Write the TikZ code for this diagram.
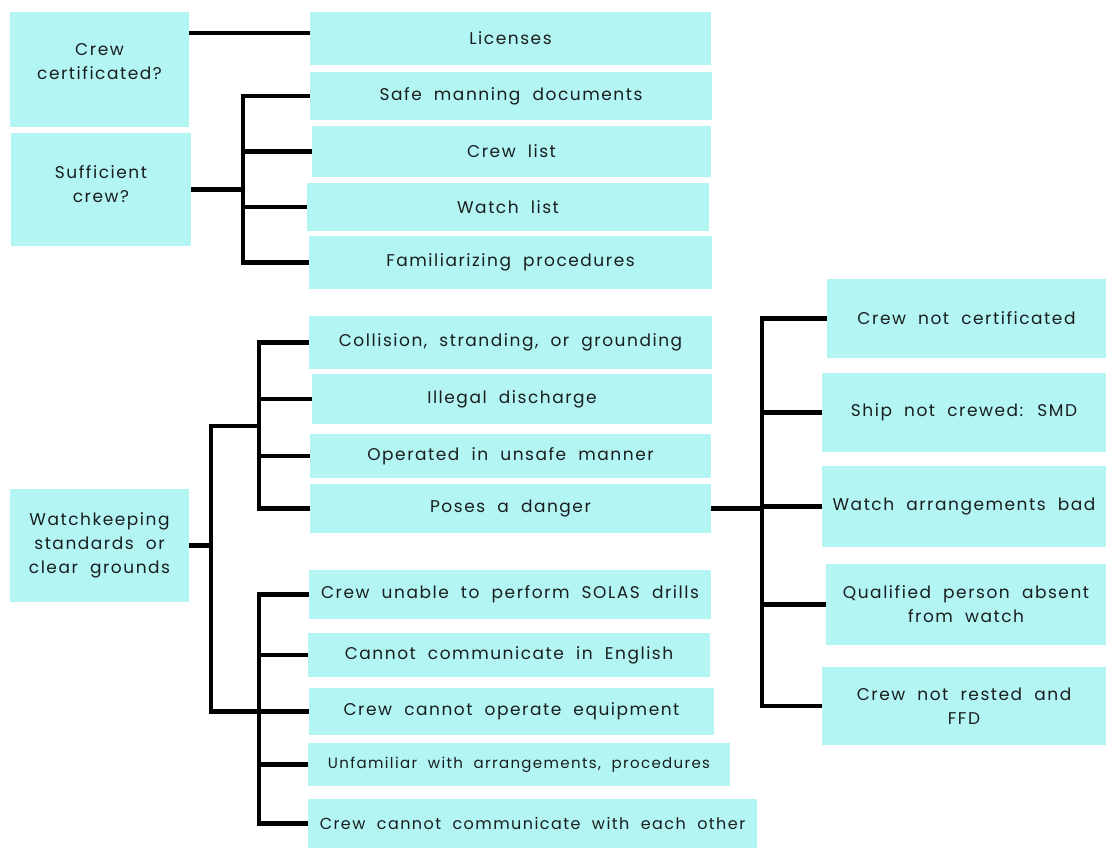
\documentclass[tikz,border=0pt]{standalone}
\usepackage{fontspec}
\setmainfont{Poppins}[LetterSpace=9,WordSpace=2]
\begin{document}
\begin{tikzpicture}[x=1pt,y=-1pt,
    box/.style={fill=boxcyan, inner sep=0pt, align=center, text=textgray,
      font=\fontsize{17}{24}\selectfont},
    conn/.style={line width=4.5pt},
    bus/.style={line width=4.5pt, line cap=rect}]
    % Define colors
    \definecolor{boxcyan}{RGB}{178,245,243}
    \definecolor{textgray}{RGB}{25,30,30}

    \useasboundingbox (0,0) rectangle (1106,848);

    % Questions on the left
    \node[box, minimum width=179pt, minimum height=115pt] (cert) at (99.5,69.5) {Crew\\certificated?\\[-8pt]};
    \node[box, minimum width=180pt, minimum height=113pt] (suff) at (101,189.5) {Sufficient\\crew?\\[-14pt]};
    \node[box, minimum width=179pt, minimum height=113pt] (wk) at (99.5,545.5) {Watchkeeping\\standards or\\clear grounds};

    % Documents
    \node[box, minimum width=401pt, minimum height=53pt] (lic) at (510.5,38.5) {Licenses};
    \node[box, minimum width=402pt, minimum height=48pt] (safe) at (511,96) {Safe manning documents};
    \node[box, minimum width=399pt, minimum height=51pt] (clist) at (511.5,151.5) {Crew list};
    \node[box, minimum width=402pt, minimum height=48pt] (wlist) at (508,207) {Watch list};
    \node[box, minimum width=403pt, minimum height=53pt] (fam) at (510.5,262.5) {Familiarizing procedures};

    % Clear grounds
    \node[box, minimum width=403pt, minimum height=53pt] (coll) at (510.5,342.5) {Collision, stranding, or grounding};
    \node[box, minimum width=400pt, minimum height=50pt] (ill) at (512,399) {Illegal discharge};
    \node[box, minimum width=401pt, minimum height=44pt] (unsafe) at (510.5,456) {Operated in unsafe manner};
    \node[box, minimum width=401pt, minimum height=49pt] (danger) at (510.5,508.5) {Poses a danger};
    \node[box, minimum width=402pt, minimum height=49pt] (solas) at (510,594.5) {Crew unable to perform SOLAS drills};
    \node[box, minimum width=402pt, minimum height=44pt] (engl) at (509,655) {Cannot communicate in English};
    \node[box, minimum width=405pt, minimum height=47pt] (equip) at (511.5,711.5) {Crew cannot operate equipment};
    \node[box, minimum width=422pt, minimum height=43pt, font=\fontsize{15}{20}\selectfont] (unfam) at (519,764.5) {Unfamiliar with arrangements, procedures};
    \node[box, minimum width=449pt, minimum height=49pt, font=\fontsize{16}{24}\selectfont] (other) at (532.5,823.5) {Crew cannot communicate with each other};

    % Dangers
    \node[box, minimum width=279pt, minimum height=79pt] (notcert) at (966.5,318.5) {Crew not certificated};
    \node[box, minimum width=284pt, minimum height=79pt] (smd) at (964,412.5) {Ship not crewed: SMD};
    \node[box, minimum width=284pt, minimum height=81pt] (bad) at (964,506.5) {Watch arrangements bad};
    \node[box, minimum width=280pt, minimum height=81pt] (absent) at (966,604.5) {Qualified person absent\\from watch};
    \node[box, minimum width=284pt, minimum height=78pt] (rested) at (964,706) {Crew not rested and\\FFD};

    % Junction points
    \coordinate (sbus) at (243,0);
    \coordinate (mbus) at (211,0);
    \coordinate (ubus) at (259,426);
    \coordinate (lbus) at (259,0);
    \coordinate (rbus) at (762,0);

    % Crew certificated
    \draw[conn] (cert.east |- 0,33) -- (lic.west |- 0,33);

    % Sufficient crew
    \draw[conn] (suff.east) -- (sbus |- suff.east);
    \draw[bus] (sbus |- safe.west) -- (sbus |- fam.west);
    \foreach \n in {safe,clist,wlist,fam}
        \draw[conn] (sbus |- \n.west) -- (\n.west);

    % Watchkeeping
    \draw[conn] (wk.east) -- (mbus |- wk.east);
    \draw[bus] (mbus |- ubus) -- (mbus |- equip.west);
    \draw[conn] (mbus |- ubus) -- (ubus);
    \draw[conn] (mbus |- equip.west) -- (lbus |- equip.west);
    \draw[bus] (ubus |- coll.west) -- (ubus |- danger.west);
    \foreach \n in {coll,ill,unsafe,danger}
        \draw[conn] (ubus |- \n.west) -- (\n.west);
    \draw[bus] (lbus |- solas.west) -- (lbus |- other.west);
    \foreach \n in {solas,engl,equip,unfam,other}
        \draw[conn] (lbus |- \n.west) -- (\n.west);

    % Poses a danger
    \draw[conn] (danger.east) -- (rbus |- danger.east);
    \draw[bus] (rbus |- notcert.west) -- (rbus |- rested.west);
    \foreach \n in {notcert,smd,bad,absent,rested}
        \draw[conn] (rbus |- \n.west) -- (\n.west);

\end{tikzpicture}
\end{document}
